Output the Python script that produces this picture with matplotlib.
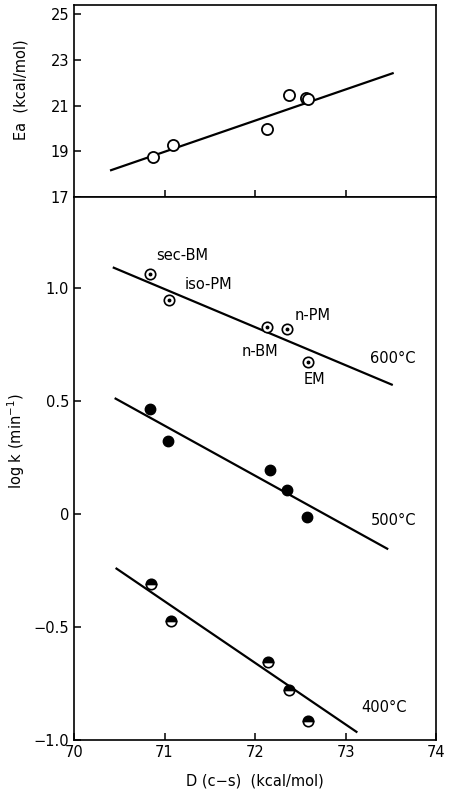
import numpy as np
import matplotlib.pyplot as plt

plt.rcParams['font.family'] = ['DejaVu Sans']

# activation energy vs bond dissociation energy
d_ea = [70.87, 71.09, 72.13, 72.38, 72.56, 72.58]
ea = [18.75, 19.28, 19.97, 21.48, 21.32, 21.30]
ea_fit_x = [70.41, 73.52]
ea_fit_y = [18.18, 22.41]

# log k at three temperatures
compounds = ['sec-BM', 'iso-PM', 'n-BM', 'n-PM', 'EM']
d_600 = [70.84, 71.05, 72.13, 72.35, 72.58]
logk_600 = [1.062, 0.947, 0.827, 0.819, 0.673]
d_500 = [70.84, 71.04, 72.17, 72.35, 72.57]
logk_500 = [0.465, 0.323, 0.195, 0.106, -0.013]
d_400 = [70.85, 71.07, 72.14, 72.37, 72.58]
logk_400 = [-0.31, -0.473, -0.655, -0.779, -0.916]

fit_600_x = [70.44, 73.51]
fit_600_y = [1.088, 0.571]
fit_500_x = [70.46, 73.46]
fit_500_y = [0.509, -0.155]
fit_400_x = [70.47, 73.12]
fit_400_y = [-0.243, -0.965]

fig = plt.figure(figsize=(4.51, 7.92), dpi=100)
ax1 = fig.add_axes([0.164, 0.751, 0.803, 0.243])
ax2 = fig.add_axes([0.164, 0.066, 0.803, 0.685])

fs = 10.5

# top panel
ax1.plot(ea_fit_x, ea_fit_y, color='black', lw=1.6)
ax1.plot(d_ea, ea, 'o', ms=8, mfc='white', mec='black', mew=1.3)
ax1.set_xlim(70, 74)
ax1.set_ylim(17, 25.4)
ax1.set_xticks([71, 72, 73])
ax1.set_xticklabels([])
ax1.set_yticks([17, 19, 21, 23, 25])
ax1.set_ylabel('Ea  (kcal/mol)', fontsize=fs)
ax1.yaxis.set_label_coords(-0.125, 0.56)

# bottom panel
ax2.plot(fit_600_x, fit_600_y, color='black', lw=1.6)
ax2.plot(fit_500_x, fit_500_y, color='black', lw=1.6)
ax2.plot(fit_400_x, fit_400_y, color='black', lw=1.6)

ax2.plot(d_600, logk_600, 'o', ms=7.5, mfc='white', mec='black', mew=1.2)
ax2.plot(d_600, logk_600, 'o', ms=1.8, color='black')
ax2.plot(d_500, logk_500, 'o', ms=7.5, color='black')
ax2.plot(d_400, logk_400, 'o', ms=7.5, fillstyle='top', mfc='black',
         markerfacecoloralt='white', mec='black', mew=1.2)

# compound labels
ax2.text(70.91, 1.142, compounds[0], fontsize=fs, va='center')
ax2.text(71.22, 1.013, compounds[1], fontsize=fs, va='center')
ax2.text(71.85, 0.717, compounds[2], fontsize=fs, va='center')
ax2.text(72.44, 0.876, compounds[3], fontsize=fs, va='center')
ax2.text(72.54, 0.593, compounds[4], fontsize=fs, va='center')

ax2.text(73.27, 0.686, '600\u00b0C', fontsize=fs, va='center')
ax2.text(73.28, -0.031, '500\u00b0C', fontsize=fs, va='center')
ax2.text(73.17, -0.858, '400\u00b0C', fontsize=fs, va='center')

ax2.set_xlim(70, 74)
ax2.set_ylim(-1.0, 1.4)
ax2.set_xticks([70, 71, 72, 73, 74])
ax2.set_yticks([1.0, 0.5, 0, -0.5, -1.0])
ax2.set_yticklabels(['1.0', '0.5', '0', '\u22120.5', '\u22121.0'])
ax2.set_xlabel('D (c\u2212s)  (kcal/mol)', fontsize=fs, labelpad=10)
ax2.set_ylabel('log k (min$^{-1}$)', fontsize=fs)
ax2.yaxis.set_label_coords(-0.13, 0.55)

for ax in (ax1, ax2):
    ax.tick_params(direction='in', length=5, width=1.1, labelsize=fs)
    for s in ax.spines.values():
        s.set_linewidth(1.2)

fig.savefig('out.png', dpi=100)
